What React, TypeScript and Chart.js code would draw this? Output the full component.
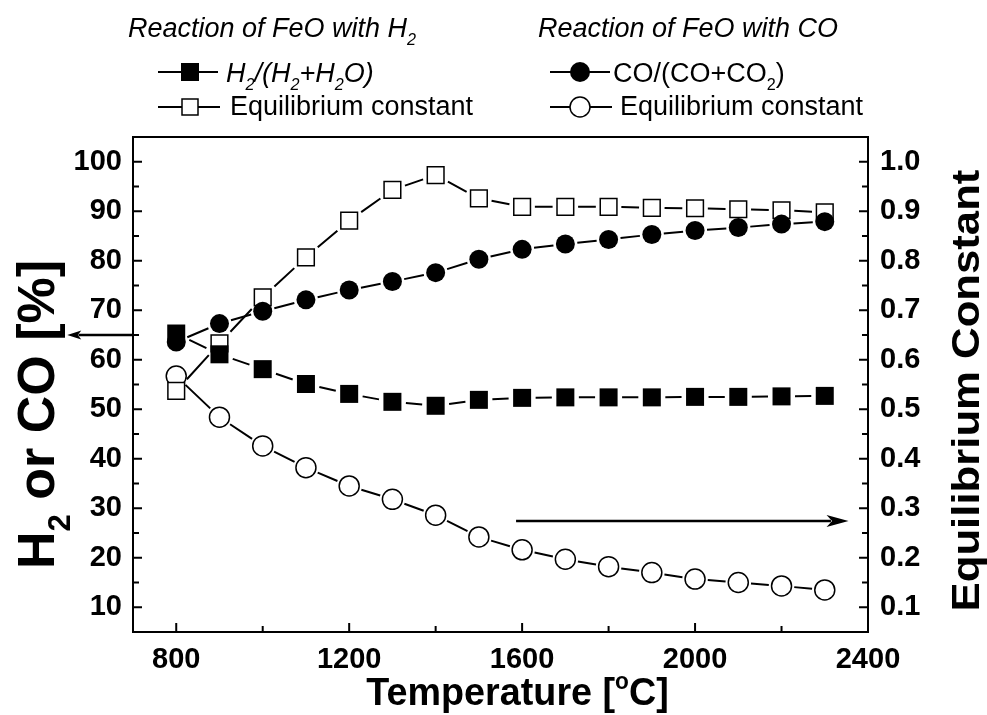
import React, { useEffect, useRef } from 'react';
import { Chart, registerables } from 'chart.js';

Chart.register(...registerables);

// Temperature grid [°C]
const temperatures = [800, 900, 1000, 1100, 1200, 1300, 1400, 1500, 1600, 1700, 1800, 1900, 2000, 2100, 2200, 2300];

// Gas fractions at equilibrium [%] (left axis)
const h2Fraction = [65.3, 61.1, 58.1, 55.1, 53.1, 51.5, 50.7, 51.9, 52.3, 52.4, 52.4, 52.4, 52.5, 52.5, 52.6, 52.7];
const coFraction = [63.6, 67.3, 69.8, 72.1, 74.1, 75.8, 77.6, 80.3, 82.3, 83.4, 84.3, 85.3, 86.1, 86.7, 87.4, 87.9];

// Equilibrium constants (right axis)
const h2EqConstant = [0.537, 0.633, 0.726, 0.807, 0.881, 0.943, 0.973, 0.926, 0.909, 0.909, 0.909, 0.907, 0.906, 0.904, 0.902, 0.898];
const coEqConstant = [0.567, 0.484, 0.426, 0.382, 0.345, 0.318, 0.286, 0.242, 0.216, 0.197, 0.182, 0.170, 0.157, 0.150, 0.143, 0.135];

// Axis ticks
const xTicks = [800, 1200, 1600, 2000, 2400];
const xMinorTicks = [1000, 1400, 1800, 2200];
const leftTicks = [10, 20, 30, 40, 50, 60, 70, 80, 90, 100];
const leftMinorTicks = [15, 25, 35, 45, 55, 65, 75, 85, 95];
const rightTicks = [0.1, 0.2, 0.3, 0.4, 0.5, 0.6, 0.7, 0.8, 0.9, 1.0];
const rightMinorTicks = [0.15, 0.25, 0.35, 0.45, 0.55, 0.65, 0.75, 0.85, 0.95];

// Arrows telling which axis each curve family belongs to
const leftArrow = { x0: 700, x1: 548, y: 65 };      // left axis units
const rightArrow = { x0: 1586, x1: 2355, y: 0.274 }; // right axis units

const FONT = '"Liberation Sans", Arial, sans-serif';

// Marker geometry per dataset, used to stop connecting lines short of each symbol
const markerGeom = [
  { shape: 'square', half: 9, gap: 4.5 },
  { shape: 'circle', half: 9.5, gap: 2.5 },
  { shape: 'square', half: 8.75, gap: 4 },
  { shape: 'circle', half: 10.75, gap: 2 },
];

type Seg = { t: string; sub?: boolean; sup?: boolean };

function fontStr(size: number, weight: string, style: string) {
  return `${style} ${weight} ${size}px ${FONT}`;
}

function richWidth(ctx: CanvasRenderingContext2D, segs: Seg[], size: number, weight: string, style: string) {
  let w = 0;
  for (const s of segs) {
    const sz = s.sub || s.sup ? size * 0.6 : size;
    ctx.font = fontStr(sz, weight, style);
    w += ctx.measureText(s.t).width;
  }
  return w;
}

// Draws a run of text with sub/superscripts, starting at x (or centered on it) on baseline y.
function drawRich(
  ctx: CanvasRenderingContext2D,
  segs: Seg[],
  x: number,
  y: number,
  size: number,
  weight = 'normal',
  style = 'normal',
  align: 'left' | 'center' = 'left'
) {
  ctx.save();
  ctx.fillStyle = '#000';
  ctx.textBaseline = 'alphabetic';
  ctx.textAlign = 'left';
  let cx = x;
  if (align === 'center') cx = x - richWidth(ctx, segs, size, weight, style) / 2;
  for (const s of segs) {
    const sz = s.sub || s.sup ? size * 0.6 : size;
    ctx.font = fontStr(sz, weight, style);
    const dy = s.sub ? size * 0.3 : s.sup ? -size * 0.42 : 0;
    ctx.fillText(s.t, cx, y + dy);
    cx += ctx.measureText(s.t).width;
  }
  ctx.restore();
}

function drawMarker(ctx: CanvasRenderingContext2D, kind: string, x: number, y: number) {
  ctx.save();
  ctx.strokeStyle = '#000';
  ctx.lineWidth = 1.5;
  ctx.beginPath();
  if (kind === 'fsq') {
    ctx.fillStyle = '#000';
    ctx.rect(x - 9, y - 9, 18, 18);
    ctx.fill();
  } else if (kind === 'osq') {
    ctx.fillStyle = '#fff';
    ctx.rect(x - 8, y - 8, 16, 16);
    ctx.fill();
    ctx.stroke();
  } else if (kind === 'fci') {
    ctx.fillStyle = '#000';
    ctx.arc(x, y, 10, 0, Math.PI * 2);
    ctx.fill();
  } else {
    ctx.fillStyle = '#fff';
    ctx.arc(x, y, 10, 0, Math.PI * 2);
    ctx.fill();
    ctx.stroke();
  }
  ctx.restore();
}

function drawArrow(ctx: CanvasRenderingContext2D, x0: number, x1: number, y: number, head: number, half: number) {
  const dir = Math.sign(x1 - x0);
  ctx.save();
  ctx.strokeStyle = '#000';
  ctx.fillStyle = '#000';
  ctx.lineWidth = 2.5;
  ctx.beginPath();
  ctx.moveTo(x0, y);
  ctx.lineTo(x1 - dir * head * 0.8, y);
  ctx.stroke();
  ctx.beginPath();
  ctx.moveTo(x1, y);
  ctx.lineTo(x1 - dir * head, y - half);
  ctx.lineTo(x1 - dir * head * 0.75, y);
  ctx.lineTo(x1 - dir * head, y + half);
  ctx.closePath();
  ctx.fill();
  ctx.restore();
}

function edgeDist(shape: string, half: number, ux: number, uy: number) {
  if (shape === 'circle') return half;
  return half / Math.max(Math.abs(ux), Math.abs(uy));
}

// Connecting lines with small gaps around the symbols, from the scale-computed point positions
const gappedLinePlugin = {
  id: 'gappedLine',
  beforeDatasetDraw(chart: any, args: any) {
    const geom = markerGeom[args.index];
    if (!geom) return;
    const pts = args.meta.data;
    const ctx: CanvasRenderingContext2D = chart.ctx;
    ctx.save();
    ctx.strokeStyle = '#000';
    ctx.lineWidth = 2;
    ctx.beginPath();
    for (let i = 1; i < pts.length; i++) {
      const a = pts[i - 1];
      const b = pts[i];
      const dx = b.x - a.x;
      const dy = b.y - a.y;
      const len = Math.hypot(dx, dy);
      if (len === 0) continue;
      const ux = dx / len;
      const uy = dy / len;
      const cut = edgeDist(geom.shape, geom.half, ux, uy) + geom.gap;
      if (len <= 2 * cut) continue;
      ctx.moveTo(a.x + ux * cut, a.y + uy * cut);
      ctx.lineTo(b.x - ux * cut, b.y - uy * cut);
    }
    ctx.stroke();
    ctx.restore();
  },
};

const framePlugin = {
  id: 'frame',
  afterDatasetsDraw(chart: any) {
    const ctx: CanvasRenderingContext2D = chart.ctx;
    const { left, right, top, bottom } = chart.chartArea;
    const xs = chart.scales.x;
    const yl = chart.scales.y;
    const yr = chart.scales.y2;

    ctx.save();
    ctx.strokeStyle = '#000';
    ctx.lineWidth = 2;
    ctx.strokeRect(left, top, right - left, bottom - top);

    // inward tick marks
    ctx.beginPath();
    const major = 9;
    const minor = 6;
    xTicks.forEach((v) => {
      const px = xs.getPixelForValue(v);
      ctx.moveTo(px, bottom);
      ctx.lineTo(px, bottom - major);
    });
    xMinorTicks.forEach((v) => {
      const px = xs.getPixelForValue(v);
      ctx.moveTo(px, bottom);
      ctx.lineTo(px, bottom - minor);
    });
    leftTicks.forEach((v) => {
      const py = yl.getPixelForValue(v);
      ctx.moveTo(left, py);
      ctx.lineTo(left + major, py);
    });
    leftMinorTicks.forEach((v) => {
      const py = yl.getPixelForValue(v);
      ctx.moveTo(left, py);
      ctx.lineTo(left + minor, py);
    });
    rightTicks.forEach((v) => {
      const py = yr.getPixelForValue(v);
      ctx.moveTo(right, py);
      ctx.lineTo(right - major, py);
    });
    rightMinorTicks.forEach((v) => {
      const py = yr.getPixelForValue(v);
      ctx.moveTo(right, py);
      ctx.lineTo(right - minor, py);
    });
    ctx.stroke();
    ctx.restore();

    // axis arrows
    drawArrow(ctx, xs.getPixelForValue(leftArrow.x0), xs.getPixelForValue(leftArrow.x1), yl.getPixelForValue(leftArrow.y), 14, 4.5);
    drawArrow(ctx, xs.getPixelForValue(rightArrow.x0), xs.getPixelForValue(rightArrow.x1), yr.getPixelForValue(rightArrow.y), 22, 6);
  },
  afterDraw(chart: any) {
    const ctx: CanvasRenderingContext2D = chart.ctx;
    const { left, right, top, bottom } = chart.chartArea;

    // x-axis title
    ctx.save();
    ctx.translate((left + right) / 2 + 17, 705);
    ctx.scale(1.02, 1.05);
    drawRich(ctx, [{ t: 'Temperature [' }, { t: 'o', sup: true }, { t: 'C]' }], 0, 0, 37, 'bold', 'normal', 'center');
    ctx.restore();

    // left axis title
    ctx.save();
    ctx.translate(54, (top + bottom) / 2 + 30);
    ctx.rotate(-Math.PI / 2);
    drawRich(ctx, [{ t: 'H' }, { t: '2', sub: true }, { t: ' or CO [%]' }], 0, 0, 52, 'bold', 'normal', 'center');
    ctx.restore();

    // right axis title
    ctx.save();
    ctx.translate(979, (top + bottom) / 2 + 6);
    ctx.rotate(-Math.PI / 2);
    ctx.scale(1.15, 1);
    drawRich(ctx, [{ t: 'Equilibrium Constant' }], 0, 0, 38, 'bold', 'normal', 'center');
    ctx.restore();

    // legend
    const seg = (x0: number, x1: number, y: number) => {
      ctx.save();
      ctx.strokeStyle = '#000';
      ctx.lineWidth = 2;
      ctx.beginPath();
      ctx.moveTo(x0, y);
      ctx.lineTo(x1, y);
      ctx.stroke();
      ctx.restore();
    };
    drawRich(ctx, [{ t: 'Reaction of FeO with H' }, { t: '2', sub: true }], 128, 37, 27, 'normal', 'italic');
    seg(158, 218, 72);
    drawMarker(ctx, 'fsq', 190, 72);
    drawRich(
      ctx,
      [{ t: 'H' }, { t: '2', sub: true }, { t: '/(H' }, { t: '2', sub: true }, { t: '+H' }, { t: '2', sub: true }, { t: 'O)' }],
      226, 82, 27, 'normal', 'italic'
    );
    seg(158, 220, 107);
    drawMarker(ctx, 'osq', 190, 107);
    drawRich(ctx, [{ t: 'Equilibrium constant' }], 230, 115, 27);

    drawRich(ctx, [{ t: 'Reaction of FeO with CO' }], 538, 37, 27, 'normal', 'italic');
    seg(550, 610, 72);
    drawMarker(ctx, 'fci', 580, 72);
    drawRich(ctx, [{ t: 'CO/(CO+CO' }, { t: '2', sub: true }, { t: ')' }], 613, 82, 27);
    seg(550, 612, 107);
    drawMarker(ctx, 'oci', 580, 107);
    drawRich(ctx, [{ t: 'Equilibrium constant' }], 620, 115, 27);
  },
};

export default function App() {
  const ref = useRef<HTMLCanvasElement | null>(null);

  useEffect(() => {
    document.body.style.margin = '0';
    const canvas = ref.current;
    if (!canvas) return;

    const pts = (ys: number[]) => temperatures.map((x, i) => ({ x, y: ys[i] }));
    const tickFont = { family: FONT, size: 29, weight: 'bold' as const };

    const chart = new Chart(canvas, {
      type: 'line',
      data: {
        datasets: [
          {
            label: 'H2/(H2+H2O)',
            data: pts(h2Fraction),
            yAxisID: 'y',
            showLine: false,
            pointStyle: 'rect',
            pointRadius: 12.73,
            pointBackgroundColor: '#000',
            pointBorderColor: '#000',
            pointBorderWidth: 0,
          },
          {
            label: 'CO/(CO+CO2)',
            data: pts(coFraction),
            yAxisID: 'y',
            showLine: false,
            pointStyle: 'circle',
            pointRadius: 9.5,
            pointBackgroundColor: '#000',
            pointBorderColor: '#000',
            pointBorderWidth: 0,
          },
          {
            label: 'Equilibrium constant (H2)',
            data: pts(h2EqConstant),
            yAxisID: 'y2',
            showLine: false,
            pointStyle: 'rect',
            pointRadius: 11.8,
            pointBackgroundColor: '#fff',
            pointBorderColor: '#000',
            pointBorderWidth: 1.5,
          },
          {
            label: 'Equilibrium constant (CO)',
            data: pts(coEqConstant),
            yAxisID: 'y2',
            showLine: false,
            pointStyle: 'circle',
            pointRadius: 10,
            pointBackgroundColor: '#fff',
            pointBorderColor: '#000',
            pointBorderWidth: 1.5,
          },
        ],
      },
      options: {
        responsive: false,
        animation: false,
        devicePixelRatio: 1,
        layout: { padding: { top: 137, left: 0, right: 0, bottom: 0 } },
        plugins: { legend: { display: false }, tooltip: { enabled: false } },
        scales: {
          x: {
            type: 'linear',
            min: 700,
            max: 2400,
            grid: { display: false, drawTicks: false },
            border: { display: false },
            afterBuildTicks: (s: any) => {
              s.ticks = xTicks.map((value) => ({ value }));
            },
            afterFit: (s: any) => {
              s.height = 83;
            },
            ticks: {
              font: tickFont,
              color: '#000',
              padding: 11,
              maxRotation: 0,
              autoSkip: false,
              callback: (v: any) => String(v),
            },
          },
          y: {
            type: 'linear',
            position: 'left',
            min: 5,
            max: 105,
            grid: { display: false, drawTicks: false },
            border: { display: false },
            afterBuildTicks: (s: any) => {
              s.ticks = leftTicks.map((value) => ({ value }));
            },
            afterFit: (s: any) => {
              s.width = 133;
            },
            ticks: { font: tickFont, color: '#000', padding: 11, autoSkip: false, callback: (v: any) => String(v) },
          },
          y2: {
            type: 'linear',
            position: 'right',
            min: 0.05,
            max: 1.05,
            grid: { display: false, drawTicks: false },
            border: { display: false },
            afterBuildTicks: (s: any) => {
              s.ticks = rightTicks.map((value) => ({ value }));
            },
            afterFit: (s: any) => {
              s.width = 119;
            },
            ticks: {
              font: tickFont,
              color: '#000',
              padding: 12,
              autoSkip: false,
              callback: (v: any) => Number(v).toFixed(1),
            },
          },
        },
      },
      plugins: [gappedLinePlugin, framePlugin],
    } as any);

    return () => chart.destroy();
  }, []);

  return (
    <div style={{ width: 987, height: 715, background: '#fff' }}>
      <canvas ref={ref} width={987} height={715} style={{ display: 'block' }} />
    </div>
  );
}
